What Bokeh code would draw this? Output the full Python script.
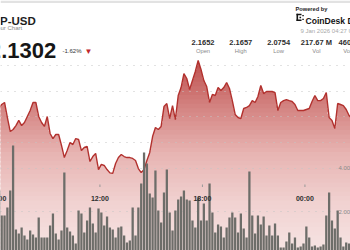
import numpy as np
from bokeh.plotting import figure
from bokeh.models import Range1d, Label, BoxAnnotation
from bokeh.embed import file_html
from bokeh.resources import INLINE

# ---------------- data ----------------
pair = "XRP-USD"
chart_name = "24 Hour Chart"
last_price = "2.1302"
change_pct = "-1.62%"
timestamp = "9 Jan 2026 04:27 UTC"
brand = "CoinDesk Data"
stat_names = ["Open", "High", "Low", "Vol", "Vol USD"]
stat_values = ["2.1652", "2.1657", "2.0754", "217.67 M", "460.93 M"]

start_hour = 6 + 5 / 60          # first 10-minute interval (06:05), hours
step_hours = 10 / 60             # 10-minute candles

price = [
    2.1271, 2.1294, 2.1310, 2.1192, 2.1082, 2.1098, 2.1129, 2.1169, 2.1129, 2.1153,
    2.1200, 2.1247, 2.1310, 2.1310, 2.1200, 2.1153, 2.1122, 2.1200, 2.1067, 2.1027,
    2.1059, 2.1059, 2.0973, 2.0878, 2.0933, 2.0996, 2.0980, 2.1027, 2.1020, 2.0933,
    2.0957, 2.0965, 2.0847, 2.0886, 2.0910, 2.0784, 2.0824, 2.0816, 2.0784, 2.0758,
    2.0754, 2.0831, 2.0878, 2.0902, 2.0886, 2.0878, 2.0878, 2.0871, 2.0855, 2.0792,
    2.0760, 2.0784, 2.0855, 2.0918, 2.1043, 2.1114, 2.1098, 2.1122, 2.1278, 2.1302,
    2.1184, 2.1286, 2.1176, 2.1365, 2.1427, 2.1537, 2.1498, 2.1412, 2.1482, 2.1553,
    2.1639, 2.1569, 2.1482, 2.1435, 2.1310, 2.1373, 2.1365, 2.1427, 2.1404, 2.1427,
    2.1467, 2.1420, 2.1325, 2.1216, 2.1192, 2.1184, 2.1263, 2.1271, 2.1286, 2.1325,
    2.1310, 2.1357, 2.1443, 2.1380, 2.1396, 2.1396, 2.1396, 2.1388, 2.1247, 2.1310,
    2.1325, 2.1333, 2.1325, 2.1318, 2.1294, 2.1247, 2.1247, 2.1247, 2.1255, 2.1263,
    2.1318, 2.1365, 2.1325, 2.1325, 2.1341, 2.1388, 2.1192, 2.1169, 2.1106, 2.1302,
    2.1294, 2.1286, 2.1255, 2.1208, 2.1184,
]

volume_m = [
    2.97, 1.82, 1.82, 2.18, 2.97, 5.03, 1.17, 0.99, 1.26, 0.90,
    0.71, 1.13, 0.94, 0.80, 1.72, 0.80, 0.80, 0.80, 1.36, 1.91,
    0.99, 0.71, 1.13, 3.79, 1.26, 1.08, 0.90, 0.53, 2.05, 1.91,
    1.03, 1.59, 2.18, 1.45, 1.03, 2.14, 1.95, 1.36, 1.77, 1.26,
    1.17, 0.80, 1.26,
    1.31, 0.90, 0.57, 0.67, 2.18, 0.90, 2.18, 3.29, 4.71, 4.21,
    2.83, 2.64, 3.89, 2.05, 1.49, 2.87, 3.93, 1.95, 1.13, 2.05,
    2.55, 2.69, 2.97, 2.55, 2.51, 1.59, 1.26, 2.64, 1.59, 2.37,
    1.59, 3.29, 1.95, 1.03, 1.40, 1.31, 0.80, 1.26, 1.72, 1.95,
    1.72,
    1.03, 1.91, 1.22, 0.80, 3.84, 1.82, 0.99, 1.82, 1.40, 1.77,
    0.90, 1.36, 0.90, 1.45, 0.90, 0.34, 0.34, 0.62, 1.03, 0.53,
    0.80, 0.34, 0.39, 0.53, 1.31, 0.80, 0.39, 0.44, 0.34, 0.39,
    0.48, 1.82, 2.87, 1.59, 1.22, 2.05, 0.80, 0.39, 0.57, 0.53,
    0.62,
]

time_tick_hours = [6, 12, 18, 24]
time_tick_labels = ["06:00", "12:00", "18:00", "00:00"]
price_grid = [2.10, 2.12, 2.14, 2.16]
volume_grid_m = [2.0, 4.0]
volume_grid_labels = ["2.00M", "4.00M"]

# ---------------- figure ----------------
W, H = 350, 250
FONT = "Liberation Sans"

t_price = start_hour + np.arange(len(price)) * step_hours
t_vol = start_hour + np.arange(len(volume_m)) * step_hours
price_arr = np.array(price)

x0 = 6.18
px_per_hour = 102.5 / 6
y_lo, y_hi = 2.0149, 2.2110

p = figure(width=W, height=H, output_backend="svg", toolbar_location=None,
           x_range=Range1d(x0, x0 + W / px_per_hour),
           y_range=Range1d(y_lo, y_hi),
           x_axis_type=None, y_axis_type=None, min_border=0,
           background_fill_color="white", border_fill_color="white",
           outline_line_color=None)
p.extra_y_ranges = {"vol": Range1d(0.207, 11.701)}

# gradient area under the price line, drawn as stacked horizontal bands
stops_p = [2.0149, 2.0541, 2.0933, 2.1325, 2.1657]
stops_c = [(246, 229, 228), (241, 210, 209), (231, 180, 178), (210, 127, 125), (191, 80, 78)]
edges = np.linspace(y_lo, 2.170, 46)
for lo, hi in zip(edges[:-1], edges[1:]):
    mid = (lo + hi) / 2
    rgb = [int(round(np.interp(mid, stops_p, [c[i] for c in stops_c]))) for i in range(3)]
    col = "#%02x%02x%02x" % tuple(rgb)
    ov = (hi - lo) * 0.6
    p.varea(x=t_price, y1=np.full(len(price), lo - ov),
            y2=np.clip(price_arr, lo - ov, hi), fill_color=col)

# white mask above the line
p.varea(x=t_price, y1=price_arr, y2=np.full(len(price), y_hi + 0.05), fill_color="white")

# grid lines
p.hspan(y=price_grid, line_color="#c4c4c4", line_width=1, line_dash="1 6")
p.hspan(y=volume_grid_m, y_range_name="vol", line_color="#c4c4c4", line_width=1, line_dash="1 6")

# price line
p.line(t_price, price_arr, line_color="#b2312e", line_width=1.4)

# volume bars
p.vbar(x=t_vol, top=volume_m, bottom=0, width=step_hours * 0.8,
       y_range_name="vol", fill_color="#6d6d69", line_color=None)

# volume axis labels (right, cropped by the picture edge as in the reference)
for v, lab_text in zip(volume_grid_m, volume_grid_labels):
    p.add_layout(Label(x=338, x_units="screen", y=v, y_range_name="vol", text=lab_text,
                       text_font=FONT, text_font_size="6px", text_color="#8a8a8a",
                       text_baseline="alphabetic", text_align="left"))

# time labels
for h, lab_text in zip(time_tick_hours, time_tick_labels):
    p.add_layout(Label(x=h, y=52.5, y_units="screen", text=lab_text, text_font=FONT,
                       text_font_size="7px", text_font_style="bold", text_color="#2e2e2e",
                       text_align="center", text_baseline="alphabetic"))
    p.add_layout(BoxAnnotation(left=h - 0.03, right=h + 0.03, bottom=63.5, top=66,
                               bottom_units="screen", top_units="screen",
                               fill_color="#9a9a9a", fill_alpha=1, line_color=None))

# ---------------- header ----------------
p.add_layout(BoxAnnotation(left=0, right=W, bottom=H - 2.5, top=H,
                           left_units="screen", right_units="screen",
                           bottom_units="screen", top_units="screen",
                           fill_color="#e2e2e2", fill_alpha=1, line_color=None))

def lab(x, y, text, size, color, bold=False, align="left"):
    p.add_layout(Label(x=x, y=y, x_units="screen", y_units="screen", text=text,
                       text_font=FONT, text_font_size=size, text_color=color,
                       text_font_style="bold" if bold else "normal",
                       text_align=align, text_baseline="alphabetic"))

lab(-16.5, H - 20, pair, "11.5px", "#1e1e1e", bold=True)
lab(-16, H - 27.3, chart_name, "6px", "#8a8a8a")
lab(-11.5, H - 50, last_price, "22px", "#161616", bold=True)
lab(62, H - 50.5, change_pct, "6px", "#333333")
lab(88, H - 51, "\u25BC", "8px", "#c0282d", align="center")

lab(295, H - 8.3, "Powered by", "5.7px", "#1e1e1e", bold=True)
lab(305, H - 20.7, brand, "8.6px", "#141414", bold=True)
lab(300, H - 30.7, timestamp, "6px", "#a8a8a8")

# brand mark
for l, r, b, t in [(296, 297.6, 229.5, 236.7), (296, 301, 235.2, 236.7), (296, 301, 229.5, 231),
                   (299, 300.6, 232.3, 233.8), (301.8, 303.3, 234.2, 235.6), (301.8, 303.3, 230.4, 231.8)]:
    p.add_layout(BoxAnnotation(left=l, right=r, bottom=b, top=t,
                               left_units="screen", right_units="screen",
                               bottom_units="screen", top_units="screen",
                               fill_color="#141414", fill_alpha=1, line_color=None))

for i, (name, val) in enumerate(zip(stat_names, stat_values)):
    cx = 202.5 + 37.8 * i
    lab(cx, H - 41.7, val, "7.5px", "#2e2e2e", bold=True, align="center")
    lab(cx, H - 50, name, "5.8px", "#8a8a8a", align="center")

open("out.html", "w").write(file_html(p, INLINE))
